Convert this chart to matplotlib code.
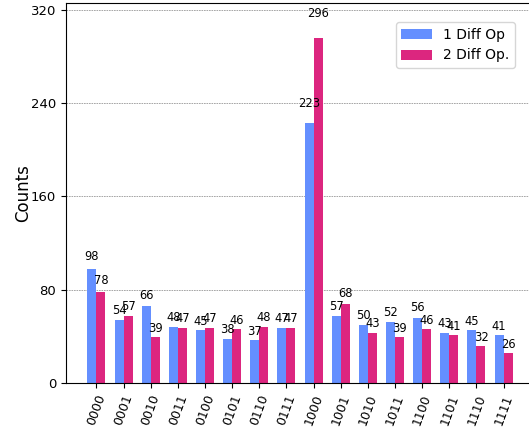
import numpy as np
import matplotlib
matplotlib.use('Agg')
import matplotlib.pyplot as plt

labels = ['0000', '0001', '0010', '0011', '0100', '0101', '0110', '0111',
          '1000', '1001', '1010', '1011', '1100', '1101', '1110', '1111']
one_diff = [98, 54, 66, 48, 45, 38, 37, 47, 223, 57, 50, 52, 56, 43, 45, 41]
two_diff = [78, 57, 39, 47, 47, 46, 48, 47, 296, 68, 43, 39, 46, 41, 32, 26]
legend_labels = ['1 Diff Op', '2 Diff Op.']
colors = ['#648fff', '#dc267f']

fig = plt.figure(figsize=(5.29, 4.29), dpi=100)
ax = fig.add_axes([66 / 529, 46 / 429, 468 / 529, 380 / 429])

ind = np.arange(len(labels))
width = 1 / 3
for item, values in enumerate([one_diff, two_diff]):
    rects = ax.bar(ind + item * width, values, width, label=legend_labels[item],
                   color=colors[item], zorder=2)
    for rect in rects:
        h = rect.get_height()
        ax.text(rect.get_x() + rect.get_width() / 2, 1.05 * h, '%d' % int(h),
                ha='center', va='bottom', fontsize=8.3, zorder=70)

ax.set_xticks(ind + width / 2)
ax.set_xticklabels(labels, rotation=70, fontsize=9)
ax.set_xlim(width / 2 - 1.12, width / 2 + 15 + 1.12)
ax.set_ylim(0, max(two_diff) * 1.1)
ax.set_yticks([0, 80, 160, 240, 320])
ax.tick_params(axis='y', labelsize=9.5)
ax.yaxis.grid(True, linestyle=(0, (2, 1)), linewidth=0.6, color='#999999', zorder=0)
ax.set_axisbelow(True)
ax.set_ylabel('Counts', fontsize=12, labelpad=-1)
ax.legend(loc='upper right', bbox_to_anchor=(0.959, 0.95), borderaxespad=0,
          fontsize=10, handlelength=2.2)
fig.savefig('out.png', dpi=100)
